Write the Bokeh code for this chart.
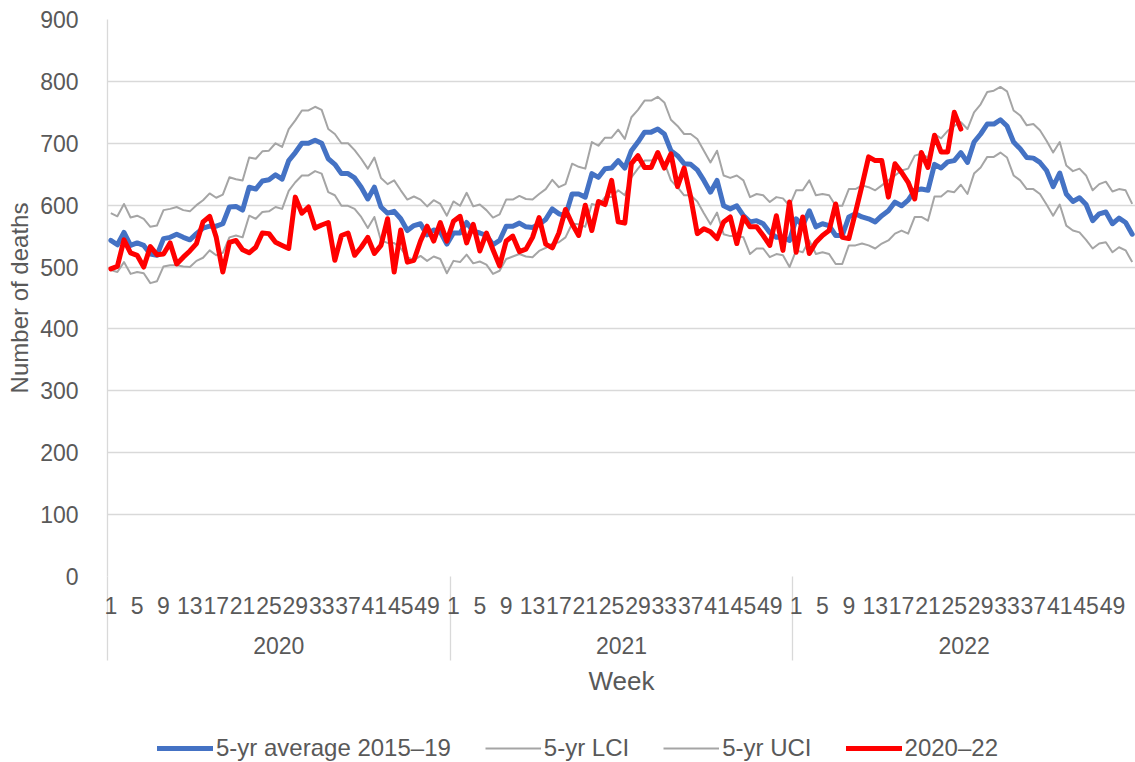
from bokeh.plotting import figure
from bokeh.models import Range1d, FixedTicker, LinearAxis, Legend, LegendItem
from bokeh.layouts import column
from bokeh.embed import file_html
from bokeh.resources import INLINE

# ---------------- data ----------------
years = ["2020", "2021", "2022"]
weeks_per_year = 52
tick_weeks = [1, 5, 9, 13, 17, 21, 25, 29, 33, 37, 41, 45, 49]

avg_2020 = [543, 536, 556, 535, 539, 535, 521, 519, 546, 548, 553, 548, 544, 554, 563, 566, 566, 570, 597, 598,
            592, 629, 626, 639, 641, 649, 642, 672, 685, 700, 700, 705, 700, 675, 666, 651, 651, 644, 629, 610,
            629, 597, 587, 590, 578, 559, 567, 570, 552, 560, 557, 537]
avg_2021 = [555, 555, 572, 558, 555, 551, 536, 543, 566, 566, 571, 565, 564, 569, 577, 594, 586, 583, 618, 618,
            613, 651, 645, 659, 660, 672, 660, 688, 702, 718, 718, 723, 715, 688, 680, 667, 666, 657, 640, 621,
            640, 599, 594, 599, 583, 573, 575, 570, 556, 548, 548, 543]
avg_2022 = [578, 567, 591, 565, 570, 567, 551, 551, 581, 586, 581, 578, 573, 583, 591, 605, 599, 608, 624, 626,
            624, 666, 660, 670, 672, 685, 669, 702, 715, 731, 731, 738, 728, 702, 691, 677, 676, 669, 656, 630,
            652, 618, 606, 612, 601, 575, 586, 589, 570, 579, 572, 553]

uci_2020 = [587, 582, 602, 580, 583, 578, 565, 567, 592, 594, 597, 592, 590, 600, 608, 619, 612, 617, 645, 642,
            640, 677, 675, 687, 688, 700, 694, 723, 737, 753, 753, 759, 754, 723, 715, 700, 700, 689, 675, 659,
            677, 644, 634, 640, 624, 609, 614, 609, 598, 608, 602, 583]
uci_2021 = [606, 599, 620, 598, 601, 592, 580, 585, 609, 609, 615, 610, 609, 618, 626, 641, 629, 634, 667, 662,
            659, 702, 696, 709, 709, 722, 707, 742, 754, 769, 769, 775, 766, 738, 728, 715, 715, 707, 688, 669,
            688, 648, 644, 648, 640, 613, 618, 616, 605, 613, 611, 599]
uci_2022 = [624, 624, 640, 616, 618, 616, 599, 599, 626, 626, 632, 629, 624, 632, 640, 648, 656, 659, 680, 683,
            677, 715, 708, 720, 728, 734, 723, 750, 763, 783, 785, 791, 784, 753, 745, 729, 731, 721, 704, 685,
            702, 664, 655, 659, 648, 624, 634, 638, 622, 626, 624, 602]

lci_2020 = [495, 492, 508, 489, 492, 490, 474, 477, 501, 503, 503, 501, 500, 510, 515, 527, 519, 523, 548, 551,
            548, 583, 578, 589, 590, 597, 594, 623, 637, 648, 648, 655, 651, 621, 616, 599, 599, 594, 581, 563,
            581, 543, 539, 539, 530, 516, 511, 518, 510, 517, 513, 490]
lci_2021 = [510, 508, 520, 506, 509, 504, 489, 494, 513, 517, 521, 517, 516, 526, 531, 538, 540, 548, 570, 569,
            565, 602, 599, 613, 613, 624, 616, 645, 659, 672, 672, 677, 669, 640, 629, 616, 616, 606, 587, 569,
            588, 553, 550, 550, 548, 521, 530, 530, 516, 521, 519, 500]
lci_2022 = [527, 524, 543, 521, 524, 521, 505, 505, 535, 535, 538, 535, 530, 538, 543, 554, 559, 554, 581, 581,
            575, 614, 614, 623, 621, 633, 618, 651, 661, 678, 678, 685, 677, 648, 640, 626, 626, 618, 601, 583,
            601, 567, 559, 556, 544, 530, 538, 540, 524, 532, 527, 508]

deaths_2020 = [497, 501, 544, 523, 519, 500, 533, 520, 521, 539, 505, 516, 526, 538, 573, 582, 548, 492, 540, 543,
               528, 523, 532, 555, 554, 540, 535, 530, 613, 587, 597, 563, 568, 572, 511, 551, 555, 519, 532, 548,
               522, 535, 578, 492, 560, 508, 511, 542, 566, 542, 572, 542]
deaths_2021 = [574, 582, 539, 569, 526, 555, 528, 502, 542, 550, 525, 529, 548, 580, 537, 531, 555, 593, 570, 551,
               600, 559, 606, 601, 640, 573, 571, 667, 680, 661, 661, 685, 660, 683, 630, 660, 613, 554, 562, 557,
               546, 573, 581, 538, 581, 565, 565, 551, 535, 583, 527, 605]
deaths_2022 = [524, 581, 522, 540, 551, 559, 602, 548, 546, 588, 632, 678, 672, 672, 613, 667, 653, 637, 610, 685,
               661, 713, 686, 686, 750, 723]

series_names = ["5-yr average 2015–19", "5-yr LCI", "5-yr UCI", "2020–22"]

# ---------------- derived series ----------------
avg = avg_2020 + avg_2021 + avg_2022
uci = uci_2020 + uci_2021 + uci_2022
lci = lci_2020 + lci_2021 + lci_2022
deaths = deaths_2020 + deaths_2021 + deaths_2022
x_all = list(range(len(avg)))
x_deaths = list(range(len(deaths)))
series = [(x_all, avg), (x_all, lci), (x_all, uci), (x_deaths, deaths)]

tick_pos = [y * weeks_per_year + (w - 1) for y in range(len(years)) for w in tick_weeks]
tick_labels = {y * weeks_per_year + (w - 1): str(w) for y in range(len(years)) for w in tick_weeks}
sep_pos = [y * weeks_per_year - 0.5 for y in range(len(years))]
year_pos = [y * weeks_per_year + (weeks_per_year - 1) / 2 for y in range(len(years))]
year_labels = {pos: yr for pos, yr in zip(year_pos, years)}

FONT = "Liberation Sans"
TXT = "#595959"
GRID = "#D9D9D9"
STYLES = [dict(line_color="#4472C4", line_width=5, line_join="round", line_cap="round"),
          dict(line_color="#A5A5A5", line_width=2, line_join="round"),
          dict(line_color="#A5A5A5", line_width=2, line_join="round"),
          dict(line_color="#FF0000", line_width=5, line_join="round", line_cap="round")]

W, H = 1135, 762
LEG_H = 36
FRAME_TOP, FRAME_H, FRAME_LEFT = 19, 557, 107
p = figure(width=W, height=H - LEG_H,
           x_range=Range1d(-0.5, len(avg) - 0.5), y_range=Range1d(0, 900),
           output_backend="svg", toolbar_location=None,
           min_border_left=FRAME_LEFT, min_border_right=0, min_border_top=FRAME_TOP,
           min_border_bottom=H - LEG_H - FRAME_TOP - FRAME_H)
p.outline_line_color = None
p.xgrid.visible = False
p.ygrid.grid_line_color = GRID
p.ygrid.grid_line_width = 1.3

# y axis
ya = p.yaxis[0]
ya.ticker = FixedTicker(ticks=list(range(0, 901, 100)))
ya.major_tick_line_color = None
ya.minor_tick_line_color = None
ya.axis_line_color = GRID
ya.axis_line_width = 1.3
ya.major_label_text_font = FONT
ya.major_label_text_font_size = "23px"
ya.major_label_text_color = TXT
ya.major_label_standoff = 23
ya.axis_label = "Number of deaths"
ya.axis_label_text_font = FONT
ya.axis_label_text_font_size = "24px"
ya.axis_label_text_font_style = "normal"
ya.axis_label_text_color = TXT
ya.axis_label_standoff = 4

# x axis: weeks (minor ticks drawn outward as year separators)
xa = p.xaxis[0]
xa.ticker = FixedTicker(ticks=tick_pos, minor_ticks=sep_pos)
xa.major_label_overrides = tick_labels
xa.major_tick_out = 0
xa.major_tick_in = 0
xa.major_tick_line_color = None
xa.minor_tick_out = 0
xa.minor_tick_in = -84
xa.minor_tick_line_color = GRID
xa.minor_tick_line_width = 1.3
xa.axis_line_color = None
xa.major_label_text_font = FONT
xa.major_label_text_font_size = "23px"
xa.major_label_text_color = TXT
xa.major_label_standoff = 20

# x axis: years + title
xa2 = LinearAxis(ticker=FixedTicker(ticks=year_pos), major_label_overrides=year_labels)
xa2.major_tick_out = 0
xa2.major_tick_in = 0
xa2.major_tick_line_color = None
xa2.minor_tick_line_color = None
xa2.axis_line_color = None
xa2.major_label_text_font = FONT
xa2.major_label_text_font_size = "23px"
xa2.major_label_text_color = TXT
xa2.major_label_standoff = 20
xa2.axis_label = "Week"
xa2.axis_label_text_font = FONT
xa2.axis_label_text_font_size = "26px"
xa2.axis_label_text_font_style = "normal"
xa2.axis_label_text_color = TXT
xa2.axis_label_standoff = 9
p.add_layout(xa2, "below")

# lines (drawing order as in the original: average, LCI, UCI, 2020-22)
for (xs, ys), st in zip(series, STYLES):
    p.line(xs, ys, **st)

# legend strip underneath (its own renderers lie outside its empty view)
pl = figure(width=W, height=LEG_H, x_range=Range1d(-0.5, len(avg) - 0.5), y_range=Range1d(0, 1),
            output_backend="svg", toolbar_location=None,
            x_axis_location=None, y_axis_location=None,
            min_border_left=FRAME_LEFT, min_border_right=0, min_border_top=0, min_border_bottom=0)
pl.outline_line_color = None
pl.grid.visible = False
key_renderers = [pl.line(xs, ys, **st) for (xs, ys), st in zip(series, STYLES)]
legend = Legend(items=[LegendItem(label=n, renderers=[r]) for n, r in zip(series_names, key_renderers)],
                orientation="horizontal", location=(50, 0))
legend.border_line_color = None
legend.background_fill_alpha = 0
legend.label_text_font = FONT
legend.label_text_font_size = "24px"
legend.label_text_color = TXT
legend.glyph_width = 56
legend.glyph_height = 24
legend.label_standoff = 3
legend.spacing = 34
legend.padding = 0
legend.margin = 0
pl.add_layout(legend, "center")

layout = column(p, pl, spacing=0)
open("out.html", "w").write(file_html(layout, INLINE))
